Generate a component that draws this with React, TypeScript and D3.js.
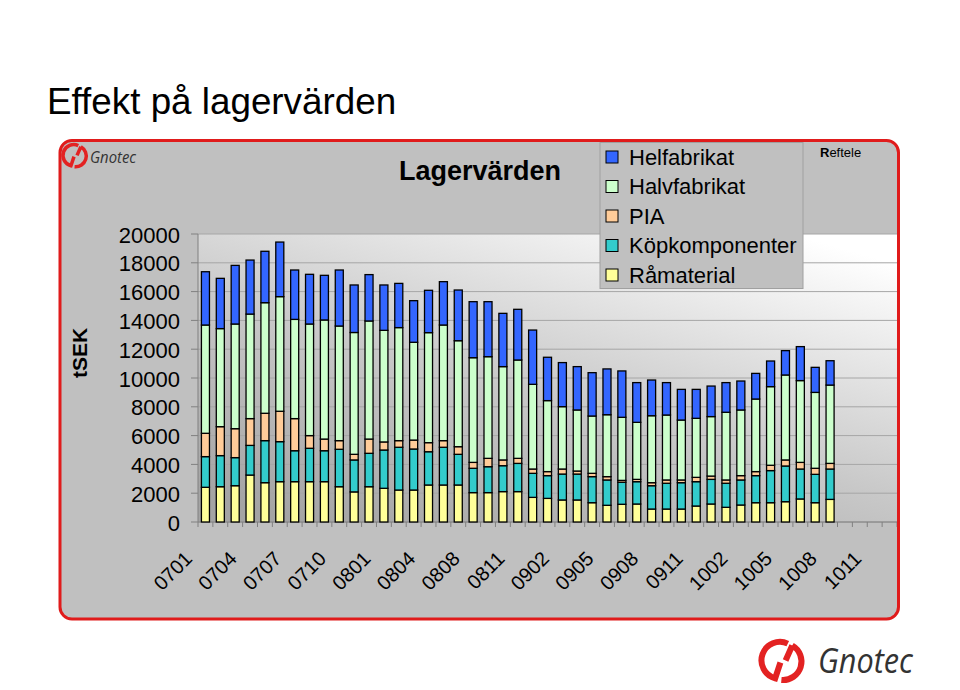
import React from "react";
import * as d3 from "d3";

const categories = [
  "0701","0702","0703","0704","0705","0706","0707","0708","0709","0710","0711","0712",
  "0801","0802","0803","0804","0805","0806","0808","0809","0810","0811","0812",
  "0901","0902","0903","0904","0905","0906","0907","0908","0909","0910","0911","0912",
  "1001","1002","1003","1004","1005","1006","1007","1008","1009","1010","1011","1012",
];

const xTickLabels = ["0701","0704","0707","0710","0801","0804","0808","0811","0902","0905","0908","0911","1002","1005","1008","1011"];

const ramaterial = [2410,2450,2520,3260,2730,2800,2800,2800,2800,2450,2090,2450,2340,2220,2220,2570,2570,2570,2040,2040,2110,2110,1710,1640,1530,1530,1340,1160,1230,1250,900,900,900,1110,1250,1020,1180,1340,1340,1410,1600,1340,1570];
const kopkomponenter = [2130,2160,1950,2060,2920,2780,2150,2320,2150,2600,2220,2320,2660,2970,2850,2310,2620,2130,1690,1800,1800,1960,1670,1580,1800,1800,1810,1760,1530,1550,1620,1790,1830,1690,1710,1670,1740,1880,2230,2480,2080,1970,2110];
const pia = [1620,2010,2010,1860,1900,2110,2230,880,810,600,390,990,560,460,620,630,460,530,410,580,400,350,300,280,350,210,230,230,130,160,210,230,190,300,230,230,300,280,370,420,460,420,390];
const halvfabrikat = [7520,6810,7270,7260,7680,7960,6890,7750,8270,7960,8460,8200,7750,7850,6790,7640,8030,7360,7270,7060,6480,6830,5880,4930,4330,4240,3980,4300,4380,3960,4650,4510,4160,4100,4130,4700,4560,5040,5460,5900,5680,5270,5440];
const helfabrikat = [3700,3490,4070,3750,3570,3790,3430,3450,3100,3890,3300,3220,3150,3070,2890,2940,3010,3520,3890,3820,3700,3520,3770,3010,3060,3010,3010,3180,3220,2760,2480,2250,2130,2010,2120,2060,2010,1780,1780,1690,2360,1740,1690];

const seriesNames = ["Helfabrikat","Halvfabrikat","PIA","Köpkomponenter","Råmaterial"];
const seriesColors = ["#3366ff","#ccffcc","#ffcc99","#33cccc","#ffff99"];
const yTicks = [0,2000,4000,6000,8000,10000,12000,14000,16000,18000,20000];

const FONT = "Liberation Sans, Arial, sans-serif";

function Logo({ cx, cy, r }: { cx: number; cy: number; r: number }) {
  const sw = r * 0.28;
  const rr = r - sw / 2;
  const pt = (a: number, rad = rr) => [cx + rad * Math.cos((a * Math.PI) / 180), cy + rad * Math.sin((a * Math.PI) / 180)];
  const [a1x, a1y] = pt(285);
  const [a2x, a2y] = pt(115);
  const [b1x, b1y] = pt(300);
  const [b2x, b2y] = pt(95);
  const pathA = `M${a1x},${a1y} A${rr},${rr} 0 1 0 ${a2x},${a2y} L${cx - r * 0.12},${cy + r * 0.05}`;
  const pathB = `M${b2x},${b2y} A${rr},${rr} 0 0 0 ${b1x},${b1y} M${b1x},${b1y} L${cx + r * 0.12},${cy - r * 0.05}`;
  return (
    <g fill="none" stroke="#e32222" strokeWidth={sw} strokeLinecap="butt">
      <path d={pathA} />
      <path d={pathB} />
    </g>
  );
}

export default function App() {
  const W = 960, H = 690;
  const left = 198, right = 897, top = 234, bottom = 522;

  const x = d3.scaleBand<string>().domain(categories).range([left, right]).paddingInner(0.46).paddingOuter(0.23);
  const y = d3.scaleLinear().domain([0, 20000]).range([bottom, top]);

  const rows = ramaterial.map((_, i) => ({
    cat: categories[i],
    "Råmaterial": ramaterial[i],
    "Köpkomponenter": kopkomponenter[i],
    "PIA": pia[i],
    "Halvfabrikat": halvfabrikat[i],
    "Helfabrikat": helfabrikat[i],
  }));
  const stackKeys = ["Råmaterial","Köpkomponenter","PIA","Halvfabrikat","Helfabrikat"];
  const stacked = d3.stack<any>().keys(stackKeys)(rows);
  const colorOf = (k: string) => seriesColors[seriesNames.indexOf(k)];
  const step = x.step();

  return (
    <svg width={W} height={H} style={{ position: "absolute", left: 0, top: 0 }} fontFamily={FONT}>
      <defs>
        <linearGradient id="plotGrad" x1="0.15" y1="1" x2="0.85" y2="0">
          <stop offset="0" stopColor="#a4a4a4" />
          <stop offset="0.45" stopColor="#c8c8c8" />
          <stop offset="1" stopColor="#ffffff" />
        </linearGradient>
        <clipPath id="panelClip">
          <rect x={60} y={140.5} width={838.5} height={478.5} rx={12} />
        </clipPath>
      </defs>
      <rect x={0} y={0} width={W} height={H} fill="#ffffff" />
      <text x={47} y={114} fontSize={36.8} fill="#000">Effekt på lagervärden</text>

      <rect x={60} y={140.5} width={838.5} height={478.5} rx={12} fill="#c0c0c0" />
      <g clipPath="url(#panelClip)">
        <rect x={left} y={top} width={right - left} height={bottom - top} fill="url(#plotGrad)" />
        {yTicks.map((t) => (
          <line key={t} x1={left} x2={right} y1={y(t)} y2={y(t)} stroke="#a6a6a6" strokeWidth={1} />
        ))}
        <line x1={left} x2={left} y1={top} y2={bottom} stroke="#808080" strokeWidth={1} />
        <line x1={left} x2={right} y1={bottom} y2={bottom} stroke="#808080" strokeWidth={1} />
        {yTicks.map((t) => (
          <line key={"yt" + t} x1={left - 7} x2={left} y1={y(t)} y2={y(t)} stroke="#808080" strokeWidth={1} />
        ))}
        {d3.range(categories.length + 1).map((i) => (
          <line key={"xt" + i} x1={left + i * step} x2={left + i * step} y1={bottom} y2={bottom + 5} stroke="#808080" strokeWidth={1} />
        ))}
        {stacked.map((s) => (
          <g key={s.key} fill={colorOf(s.key)} stroke="#000" strokeWidth={1.3}>
            {s.map((d, i) => (
              <rect key={i} x={x(categories[i])!} y={y(d[1])} width={x.bandwidth()} height={y(d[0]) - y(d[1])} />
            ))}
          </g>
        ))}
      </g>

      {yTicks.map((t) => (
        <text key={"yl" + t} x={180} y={y(t) + 1} fontSize={22} textAnchor="end" dominantBaseline="central" fill="#000">{t}</text>
      ))}
      <text transform="translate(86.5,353) rotate(-90)" fontSize={21} fontWeight="bold" textAnchor="middle" fill="#000">tSEK</text>

      {xTickLabels.map((l) => {
        const cx = x(l)! + x.bandwidth() / 2;
        return (
          <text key={"xl" + l} transform={`translate(${cx - 12},${560}) rotate(-45)`} fontSize={20} textAnchor="end" fill="#000">{l}</text>
        );
      })}

      <text x={480} y={180} fontSize={27} fontWeight="bold" textAnchor="middle" fill="#000">Lagervärden</text>

      <rect x={600} y={142.5} width={203} height={146} fill="#c0c0c0" stroke="#a0a0a0" strokeWidth={1} />
      {seriesNames.map((n, i) => (
        <g key={n}>
          <rect x={606} y={151 + i * 29.5} width={12} height={12} fill={seriesColors[i]} stroke="#000" strokeWidth={1} />
          <text x={629} y={157 + i * 29.5} fontSize={22} dominantBaseline="central" fill="#000">{n}</text>
        </g>
      ))}

      <text x={820} y={157} fontSize={13} fill="#000"><tspan fontWeight="bold">R</tspan>eftele</text>

      <rect x={60} y={140.5} width={838.5} height={478.5} rx={12} fill="none" stroke="#e01b1b" strokeWidth={3} />

      <Logo cx={75.5} cy={156} r={12.5} />
      <text x={90} y={163} fontSize={17} fontStyle="italic" fill="#333" fontFamily="Open Sans, Liberation Sans, sans-serif" textLength={46} lengthAdjust="spacingAndGlyphs">Gnotec</text>

      <Logo cx={783} cy={661.5} r={21.5} />
      <text x={818} y={673} fontSize={34} fontStyle="italic" fill="#333" fontFamily="Open Sans, Liberation Sans, sans-serif" textLength={95} lengthAdjust="spacingAndGlyphs">Gnotec</text>
    </svg>
  );
}
